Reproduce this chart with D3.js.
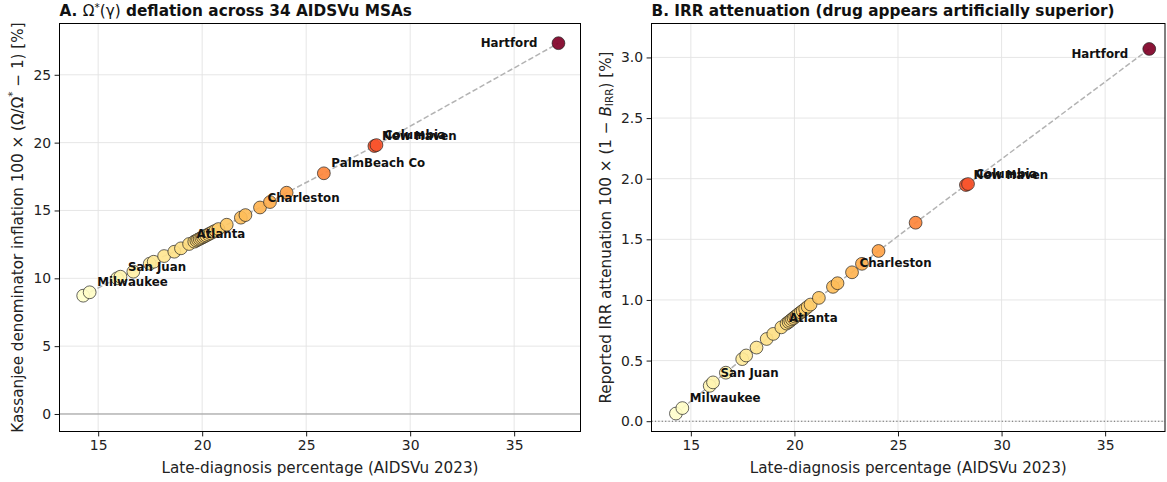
<!DOCTYPE html>
<html>
<head>
<meta charset="utf-8">
<script src="https://cdn.jsdelivr.net/npm/d3@7"></script>
<style>
  html, body { margin: 0; padding: 0; background: #fff; }
  svg { display: block; font-family: "DejaVu Sans", sans-serif; }
</style>
</head>
<body>
<svg id="chart" width="1167" height="482"></svg>
<script>
// ---- Data ----
const lateDx = [14.28, 14.59, 15.91, 16.07, 16.69, 17.48, 17.67, 18.17, 18.66, 18.98, 19.37,
  19.62, 19.72, 19.80, 19.88, 19.96, 20.04, 20.12, 20.20, 20.30, 20.40, 20.52, 20.64,
  20.78, 21.18, 21.86, 22.08, 22.78, 23.26, 24.06, 25.85, 28.28, 28.38, 37.13];
const omegaInflation = [8.72, 8.97, 10.00, 10.12, 10.49, 11.08, 11.22, 11.64, 11.96, 12.21, 12.53,
  12.70, 12.78, 12.85, 12.91, 12.97, 13.03, 13.10, 13.16, 13.24, 13.32, 13.42, 13.51,
  13.63, 13.95, 14.47, 14.66, 15.22, 15.62, 16.31, 17.74, 19.75, 19.82, 27.33];
const irrAttenuation = [0.063, 0.108, 0.292, 0.320, 0.400, 0.512, 0.542, 0.607, 0.678, 0.720, 0.774,
  0.805, 0.818, 0.828, 0.840, 0.850, 0.862, 0.872, 0.884, 0.897, 0.910, 0.926, 0.943,
  0.962, 1.017, 1.108, 1.138, 1.228, 1.298, 1.404, 1.637, 1.948, 1.956, 3.070];
const labelsA = ["", "Milwaukee", "", "San Juan", "", "", "", "", "", "", "Atlanta",
  "", "", "", "", "", "", "", "", "", "", "", "",
  "", "", "", "", "Charleston", "", "", "PalmBeach Co", "New Haven", "Columbia", "Hartford"];
const labelsB = ["", "Milwaukee", "", "San Juan", "", "", "", "", "", "", "Atlanta",
  "", "", "", "", "", "", "", "", "", "", "", "",
  "", "", "", "", "Charleston", "", "", "", "New Haven", "Columbia", "Hartford"];
const xTicks = [15, 20, 25, 30, 35];
const yTicksA = [0, 5, 10, 15, 20, 25];
const yTicksB = [0.0, 0.5, 1.0, 1.5, 2.0, 2.5, 3.0];

const svg = d3.select("#chart");
const color = d3.scaleSequential(d3.interpolateYlOrRd).domain([d3.min(lateDx), d3.max(lateDx)]);

function panel(cfg) {
  const { left, right, top, bottom, xDomain, yDomain, yVals, yTicks, yFmt, hartDy, labels } = cfg;
  const x = d3.scaleLinear().domain(xDomain).range([left, right]);
  const y = d3.scaleLinear().domain(yDomain).range([bottom, top]);
  const g = svg.append("g");

  // grid
  g.append("g").selectAll("line").data(xTicks).join("line")
    .attr("x1", d => x(d)).attr("x2", d => x(d)).attr("y1", top).attr("y2", bottom)
    .attr("stroke", "#e3e3e3").attr("stroke-width", 0.9);
  g.append("g").selectAll("line").data(yTicks).join("line")
    .attr("y1", d => y(d)).attr("y2", d => y(d)).attr("x1", left).attr("x2", right)
    .attr("stroke", "#e3e3e3").attr("stroke-width", 0.9);

  // zero line
  if (cfg.zeroStyle === "solid") {
    g.append("line").attr("x1", left).attr("x2", right).attr("y1", y(0)).attr("y2", y(0))
      .attr("stroke", "#999").attr("stroke-width", 1);
  } else {
    g.append("line").attr("x1", left).attr("x2", right).attr("y1", y(0)).attr("y2", y(0))
      .attr("stroke", "#666").attr("stroke-width", 1.1).attr("stroke-dasharray", "1.2,2.2");
  }

  // dashed connecting line
  const pts = lateDx.map((v, i) => [v, yVals[i]]).sort((a, b) => a[0] - b[0]);
  g.append("path").datum(pts)
    .attr("d", d3.line().x(d => x(d[0])).y(d => y(d[1])))
    .attr("fill", "none").attr("stroke", "#b3b3b3").attr("stroke-width", 1.5)
    .attr("stroke-dasharray", "5.5,2.5");

  // points
  g.append("g").selectAll("circle").data(lateDx).join("circle")
    .attr("cx", d => x(d)).attr("cy", (d, i) => y(yVals[i])).attr("r", 6.4)
    .attr("fill", d => color(d)).attr("fill-opacity", 0.92)
    .attr("stroke", "#222").attr("stroke-width", 0.7);

  // labels
  g.append("g").selectAll("text").data(lateDx.map((v, i) => i).filter(i => labels[i] !== "")).join("text")
    .attr("x", i => labels[i] === "Hartford" ? x(lateDx[i]) - 21 : x(lateDx[i]) + 7.5)
    .attr("y", i => labels[i] === "Hartford" ? y(yVals[i]) + hartDy : y(yVals[i]) - 5.8)
    .attr("text-anchor", i => labels[i] === "Hartford" ? "end" : "start")
    .attr("font-size", 11.8).attr("font-weight", "bold").attr("fill", "#111")
    .text(i => labels[i]);

  // frame
  g.append("rect").attr("x", left).attr("y", top).attr("width", right - left).attr("height", bottom - top)
    .attr("fill", "none").attr("stroke", "#000").attr("stroke-width", 1);

  // axes
  const xa = g.append("g").attr("transform", `translate(0,${bottom})`)
    .call(d3.axisBottom(x).tickValues(xTicks).tickSize(4.9).tickPadding(3.5).tickFormat(d3.format("d")));
  const ya = g.append("g").attr("transform", `translate(${left},0)`)
    .call(d3.axisLeft(y).tickValues(yTicks).tickSize(4.9).tickPadding(3.5).tickFormat(yFmt));
  [xa, ya].forEach(a => {
    a.select(".domain").remove();
    a.selectAll("text").attr("font-size", 13.9).attr("fill", "#222").attr("font-family", "DejaVu Sans");
    a.selectAll("line").attr("stroke", "#000").attr("stroke-width", 0.9);
  });

  // x label
  g.append("text").attr("x", (left + right) / 2).attr("y", 473)
    .attr("text-anchor", "middle").attr("font-size", 15.2).attr("fill", "#222")
    .text("Late-diagnosis percentage (AIDSVu 2023)");
  return { x, y, g };
}

// Panel A
panel({
  left: 59.5, right: 580.5, top: 23.5, bottom: 431.5,
  xDomain: [13.14, 38.19], yDomain: [-1.29, 28.78],
  yVals: omegaInflation, yTicks: yTicksA, yFmt: d3.format("d"),
  zeroStyle: "solid", hartDy: 4, labels: labelsA
});
// Panel B
panel({
  left: 651.5, right: 1165, top: 23.5, bottom: 431.5,
  xDomain: [13.10, 37.89], yDomain: [-0.085, 3.28],
  yVals: irrAttenuation, yTicks: yTicksB, yFmt: d3.format(".1f"),
  zeroStyle: "dotted", hartDy: 8.7, labels: labelsB
});

// Titles
const tA = svg.append("text").attr("x", 59.5).attr("y", 16).attr("font-size", 15.3).attr("fill", "#111");
tA.append("tspan").attr("font-weight", "bold").text("A. ");
tA.append("tspan").text("Ω");
tA.append("tspan").attr("font-size", 10.5).attr("dy", -5.5).text("*");
tA.append("tspan").attr("dy", 5.5).text("(γ)");
tA.append("tspan").attr("font-weight", "bold").text(" deflation across 34 AIDSVu MSAs");

svg.append("text").attr("x", 651.5).attr("y", 16).attr("font-size", 15.3).attr("fill", "#111")
  .attr("font-weight", "bold").text("B. IRR attenuation (drug appears artificially superior)");

// Y labels
const yA = svg.append("text").attr("transform", "translate(18,227.5) rotate(-90)")
  .attr("text-anchor", "middle").attr("dominant-baseline", "middle").attr("font-size", 15.2).attr("fill", "#222");
yA.append("tspan").text("Kassanjee denominator inflation  100 × (Ω/Ω");
yA.append("tspan").attr("font-size", 10.5).attr("dy", -5.5).text("*");
yA.append("tspan").attr("dy", 5.5).text(" − 1) [%]");

const yB = svg.append("text").attr("transform", "translate(606,227.5) rotate(-90)")
  .attr("text-anchor", "middle").attr("dominant-baseline", "middle").attr("font-size", 15.2).attr("fill", "#222");
yB.append("tspan").text("Reported IRR attenuation  100 × (1 − ");
yB.append("tspan").attr("font-style", "italic").text("B");
yB.append("tspan").attr("font-size", 10.5).attr("dy", 3.5).text("IRR");
yB.append("tspan").attr("dy", -3.5).text(") [%]");
</script>
</body>
</html>
